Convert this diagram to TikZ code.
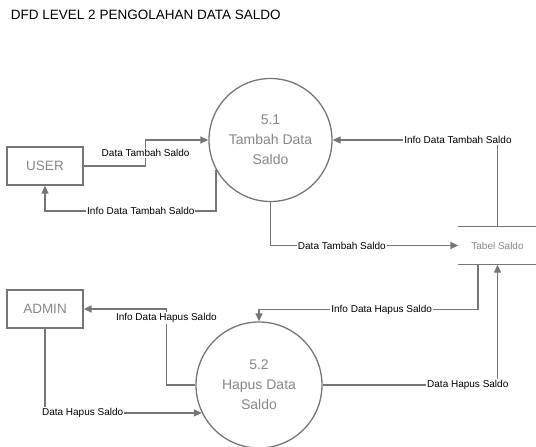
\documentclass[tikz,border=0pt]{standalone}
\usepackage{fontspec}
\setmainfont{Liberation Sans}
\usepackage{tikz}
\usetikzlibrary{arrows.meta}
\usetikzlibrary{calc}
\usetikzlibrary{shapes}
\usetikzlibrary{positioning}
\definecolor{dfdline}{RGB}{118,118,118}
\definecolor{dfdtext}{RGB}{135,135,135}
\tikzset{>={Triangle[length=8pt,width=7pt]}}

\begin{document}
\begin{tikzpicture}[x=1pt,y=-1pt,line width=1.3pt,
    proc/.style={draw=dfdline,circle,inner sep=0pt,text=dfdtext,align=center,font=\fontsize{14}{20}\selectfont},
    ent/.style={draw=dfdline,minimum width=76pt,minimum height=38pt,inner sep=0pt,text=dfdtext,font=\fontsize{13.5}{16}\selectfont},
    store/.style={minimum width=77pt,minimum height=37pt,inner sep=0pt,text=dfdtext,font=\fontsize{10}{12}\selectfont},
    lbl/.style={fill=white,inner sep=1pt,text=black,font=\fontsize{10}{12}\selectfont},
    flow/.style={draw=dfdline,->}]
  \useasboundingbox (0,0) rectangle (536,447);

  \draw node[anchor=west,font=\fontsize{13.5}{16}\selectfont] (title) at (7,15) {DFD LEVEL 2 PENGOLAHAN DATA SALDO};

  % processes
  \draw node[proc,minimum size=123pt] (p51) at (270.5,140) {5.1\\Tambah Data\\Saldo};
  \draw node[proc,minimum size=126pt] (p52) at (259,385) {5.2\\Hapus Data\\Saldo};

  % external entities
  \draw node[ent] (user) at (45,166) {USER};
  \draw node[ent] (admin) at (45,309) {ADMIN};

  % data store
  \draw node[store] (tabel) at (497.5,245.5) {Tabel Saldo};
  \draw[dfdline] (tabel.north west) -- (tabel.north east);
  \draw[dfdline] (tabel.south west) -- (tabel.south east);

  % flows of 5.1
  \draw[flow] (user.east) -- ++(62,0) |- (p51.west)
        node[lbl,pos=0.25] {Data Tambah Saldo};
  \draw[flow] (p51.-151) -- ++(0,41) -| (user.south)
        node[lbl,pos=0.22] {Info Data Tambah Saldo};
  \draw[flow] (tabel.north) |- (p51.east)
        node[lbl,pos=0.62] {Info Data Tambah Saldo};
  \draw[flow] (p51.south) |- (tabel.west)
        node[lbl,pos=0.69] {Data Tambah Saldo};

  % flows of 5.2
  \draw[flow] ([xshift=-19.5pt]tabel.south) -- ++(0,45) -| (p52.north)
        node[lbl,pos=0.22] {Info Data Hapus Saldo};
  \draw[flow] (p52.west) -- ++(-29,0) |- (admin.east)
        node[lbl,pos=0.44] {Info Data Hapus Saldo};
  \draw[flow] (admin.south) |- (p52.-154)
        node[lbl,pos=0.62] {Data Hapus Saldo};
  \draw[flow] (p52.east) -| (tabel.south)
        node[lbl,pos=0.415] {Data Hapus Saldo};

\end{tikzpicture}
\end{document}
